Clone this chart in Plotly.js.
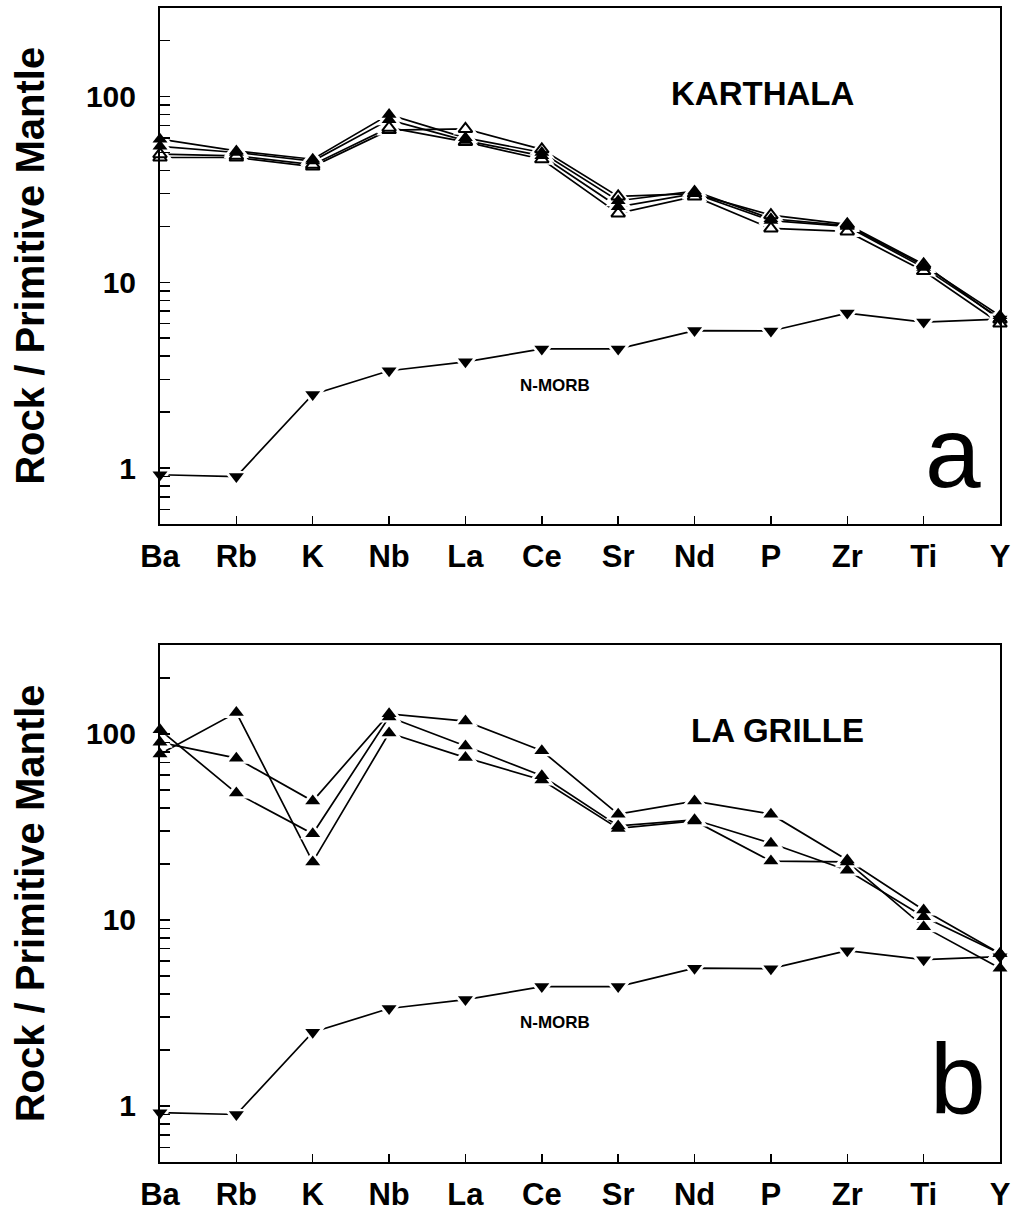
<!DOCTYPE html>
<html>
<head>
<meta charset="utf-8">
<script src="https://cdn.plot.ly/plotly-3.0.1.min.js"></script>
<style>
  html, body { margin: 0; padding: 0; background: #fff; }
  #chart { width: 1013px; height: 1216px; }
</style>
</head>
<body>
<div id="chart"></div>
<script>
// Spider diagram element order (incompatible -> compatible)
const categories = ['Ba', 'Rb', 'K', 'Nb', 'La', 'Ce', 'Sr', 'Nd', 'P', 'Zr', 'Ti', 'Y'];

// N-MORB reference pattern (normalised to primitive mantle)
const nMorb = [0.92, 0.9, 2.49, 3.34, 3.73, 4.38, 4.38, 5.5, 5.47, 6.83, 6.11, 6.34];

// Karthala samples: filled symbols
const karthalaFilled1 = [59, 51, 46, 80, 60, 50, 27.5, 31, 22, 20.2, 12.3, 6.6];
const karthalaFilled2 = [54, 50, 45, 75, 58, 48, 25.5, 30, 21.5, 20, 12, 6.4];
// Karthala samples: open symbols
const karthalaOpen1 = [47, 47, 42, 66, 67, 52, 29, 30, 23, 20.5, 12.5, 6.3];
const karthalaOpen2 = [49, 48, 43, 68, 57, 46, 23.5, 29, 19.5, 18.8, 11.5, 6.0];

// La Grille samples
const laGrille1 = [78, 130, 20.5, 101, 74.5, 56.5, 31, 34, 20.7, 20.5, 9.2, 5.5];
const laGrille2 = [105, 48, 29, 123, 86, 59.5, 32, 34.5, 25.8, 18.5, 10.4, 6.6];
const laGrille3 = [90, 74, 43.5, 128, 117, 81, 37, 43.5, 37, 21, 11.3, 6.6];

const FONT = 'Liberation Sans, Arial, Helvetica, sans-serif';

// Each series: a line, a white halo that opens a gap round each symbol, and the symbol itself
function series(values, xa, ya, symbol, filled) {
  const line = {
    x: categories, y: values, xaxis: xa, yaxis: ya, type: 'scatter', mode: 'lines',
    line: { color: '#000', width: 1.7 }, hoverinfo: 'skip', showlegend: false
  };
  const halo = {
    x: categories, y: values, xaxis: xa, yaxis: ya, type: 'scatter', mode: 'markers',
    marker: { symbol: symbol, size: 22, color: '#fff', line: { width: 0 } },
    cliponaxis: false, hoverinfo: 'skip', showlegend: false
  };
  const mark = {
    x: categories, y: values, xaxis: xa, yaxis: ya, type: 'scatter', mode: 'markers',
    marker: {
      symbol: symbol, size: filled ? 13 : 12,
      color: filled ? '#000' : '#fff',
      line: { color: '#000', width: filled ? 0 : 2 }
    },
    cliponaxis: false, showlegend: false
  };
  return { line, halo, mark };
}

const groups = [
  series(karthalaOpen1, 'x', 'y', 'triangle-up', false),
  series(karthalaOpen2, 'x', 'y', 'triangle-up', false),
  series(karthalaFilled1, 'x', 'y', 'triangle-up', true),
  series(karthalaFilled2, 'x', 'y', 'triangle-up', true),
  series(nMorb, 'x', 'y', 'triangle-down', true),
  series(laGrille1, 'x2', 'y2', 'triangle-up', true),
  series(laGrille2, 'x2', 'y2', 'triangle-up', true),
  series(laGrille3, 'x2', 'y2', 'triangle-up', true),
  series(nMorb, 'x2', 'y2', 'triangle-down', true)
];

const data = [
  ...groups.map(g => g.line),
  ...groups.map(g => g.halo),
  ...groups.map(g => g.mark)
];

const minorVals = [0.5, 0.6, 0.7, 0.8, 0.9, 2, 3, 4, 5, 6, 7, 8, 9,
                   20, 30, 40, 50, 60, 70, 80, 90, 200, 300];

function xAxis(anchor) {
  return {
    anchor: anchor, domain: [0, 1], type: 'category', range: [0, 11],
    showline: true, mirror: true, linecolor: '#000', linewidth: 2,
    showgrid: false, zeroline: false,
    ticks: 'inside', ticklen: 8, tickwidth: 1.5, tickcolor: '#000',
    ticklabelstandoff: 4,
    tickfont: { family: FONT, size: 31, color: '#000', weight: 'bold' }
  };
}

function yAxis(anchor, domain) {
  return {
    anchor: anchor, domain: domain, type: 'log',
    range: [Math.log10(0.5), Math.log10(300)],
    showline: true, mirror: true, linecolor: '#000', linewidth: 2,
    showgrid: false, zeroline: false,
    tickmode: 'array', tickvals: [1, 10, 100], ticktext: ['1', '10', '100'],
    ticks: 'inside', ticklen: 10, tickwidth: 1.5, tickcolor: '#000',
    ticklabelstandoff: 16,
    tickfont: { family: FONT, size: 30, color: '#000', weight: 'bold' },
    minor: { tickmode: 'array', tickvals: minorVals, ticks: 'inside', ticklen: 10, tickwidth: 1.5, tickcolor: '#000', showgrid: false }
  };
}

function note(text, xref, yref, x, y, size, extra) {
  return Object.assign({
    text: text, xref: xref, yref: yref, x: x, y: y, showarrow: false,
    xanchor: 'center', yanchor: 'middle',
    font: { family: FONT, size: size, color: '#000' }
  }, extra || {});
}

const bold = (size) => ({ family: FONT, size: size, color: '#000', weight: 'bold' });

const layout = {
  width: 1013, height: 1216,
  margin: { l: 160, r: 13, t: 8, b: 54 },
  paper_bgcolor: '#fff', plot_bgcolor: '#fff',
  showlegend: false,
  xaxis: xAxis('y'),
  yaxis: yAxis('x', [0.5529, 1]),
  xaxis2: xAxis('y2'),
  yaxis2: yAxis('x2', [0, 0.448]),
  annotations: [
    note('Rock / Primitive Mantle', 'paper', 'y domain', -0.155, 0.5, 40, { textangle: -90, font: bold(40) }),
    note('Rock / Primitive Mantle', 'paper', 'y2 domain', -0.155, 0.5, 40, { textangle: -90, font: bold(40) }),
    note('KARTHALA', 'x domain', 'y domain', 0.717, 0.835, 33, { font: bold(33) }),
    note('LA GRILLE', 'x2 domain', 'y2 domain', 0.735, 0.834, 33, { font: bold(33) }),
    note('N-MORB', 'x domain', 'y domain', 0.47, 0.269, 17, { font: bold(17) }),
    note('N-MORB', 'x2 domain', 'y2 domain', 0.47, 0.269, 17, { font: bold(17) }),
    note('a', 'x domain', 'y domain', 0.944, 0.14, 100),
    note('b', 'x2 domain', 'y2 domain', 0.95, 0.16, 100)
  ]
};

Plotly.newPlot('chart', data, layout, { staticPlot: true, displayModeBar: false });
</script>
</body>
</html>
